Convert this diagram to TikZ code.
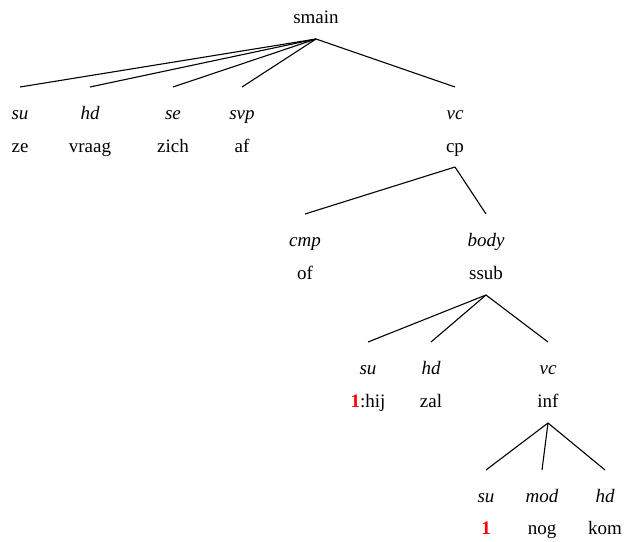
\documentclass[tikz,border=0pt]{standalone}
\usepackage{fontspec}
\setmainfont{Liberation Serif}
\begin{document}
\begin{tikzpicture}[x=1pt,y=-1pt,
  lbl/.style={anchor=base,inner sep=0pt,font=\fontsize{19}{23}\selectfont\itshape},
  wrd/.style={anchor=base,inner sep=0pt,font=\fontsize{19}{23}\selectfont},
  edge/.style={line width=1.1pt}]
\useasboundingbox (0,0) rectangle (624,541);
\newcommand{\idx}{\textcolor{red}{\textbf{1}}}
% level 0
\node[wrd] (smain) at (316,23) {smain};
\coordinate (smainB) at (316,39);
% level 1
\foreach \n/\x/\l/\w in {su1/20/su/ze, hd1/90/hd/vraag, se1/173/se/zich, svp1/242/svp/af, vc1/455/vc/cp}{
  \coordinate (\n T) at (\x,87);
  \node[lbl] (\n L) at (\x,119) {\l};
  \node[wrd] (\n W) at (\x,152) {\w};
  \draw[edge] (smainB) -- (\n T);
}
\coordinate (cpB) at (455,167);
% level 2
\foreach \n/\x/\l/\w in {cmp2/305/cmp/of, body2/486/body/ssub}{
  \coordinate (\n T) at (\x,214);
  \node[lbl] (\n L) at (\x,246) {\l};
  \node[wrd] (\n W) at (\x,279) {\w};
  \draw[edge] (cpB) -- (\n T);
}
\coordinate (ssubB) at (486,295);
% level 3
\coordinate (su3T) at (368,342);
\node[lbl] (su3L) at (368,374) {su};
\node[wrd] (su3W) at (368,407) {\idx:hij};
\coordinate (hd3T) at (431,342);
\node[lbl] (hd3L) at (431,374) {hd};
\node[wrd] (hd3W) at (431,407) {zal};
\coordinate (vc3T) at (548,342);
\node[lbl] (vc3L) at (548,374) {vc};
\node[wrd] (vc3W) at (548,407) {inf};
\draw[edge] (ssubB) -- (su3T);
\draw[edge] (ssubB) -- (hd3T);
\draw[edge] (ssubB) -- (vc3T);
\coordinate (infB) at (548,423);
% level 4
\coordinate (su4T) at (486,470);
\node[lbl] (su4L) at (486,502) {su};
\node[wrd] (su4W) at (486,534) {\idx};
\coordinate (mod4T) at (542,470);
\node[lbl] (mod4L) at (542,502) {mod};
\node[wrd] (mod4W) at (542,534) {nog};
\coordinate (hd4T) at (605,470);
\node[lbl] (hd4L) at (605,502) {hd};
\node[wrd] (hd4W) at (605,534) {kom};
\draw[edge] (infB) -- (su4T);
\draw[edge] (infB) -- (mod4T);
\draw[edge] (infB) -- (hd4T);
\end{tikzpicture}
\end{document}
